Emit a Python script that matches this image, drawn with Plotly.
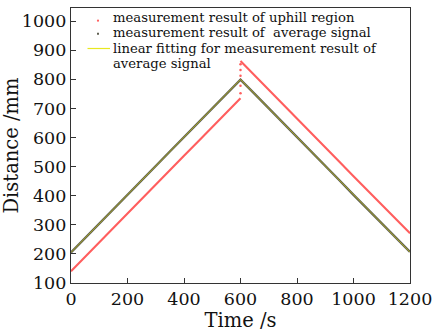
import plotly.graph_objects as go

# Time (s) and distances (mm)
t_up = [0, 50, 100, 150, 200, 250, 300, 350, 400, 450, 500, 550, 600]
t_down = [600, 650, 700, 750, 800, 850, 900, 950, 1000, 1050, 1100, 1150, 1200]

uphill_up = [140, 190, 239, 289, 338, 388, 438, 487, 537, 586, 636, 686, 735]
uphill_down = [863, 814, 764, 715, 665, 616, 566, 517, 467, 418, 368, 319, 271]
uphill_peak_t = [600, 600, 600, 600, 600, 600]
uphill_peak_d = [752, 778, 798, 812, 832, 852]

avg_up = [205, 254, 304, 354, 403, 453, 502, 552, 601, 651, 701, 750, 799]
avg_down = [799, 750, 701, 651, 601, 552, 502, 453, 403, 354, 304, 254, 207]

fit_t = [0, 600, 1200]
fit_d = [205, 799, 206]

legend_lines = [
    "measurement result of uphill region",
    "measurement result of  average signal",
    "linear fitting for measurement result of",
    "average signal",
]

RED = "#ff5e5e"
GRAY = "#606052"
YEL = "#e8e820"
FONT = "DejaVu Serif"

fig = go.Figure()
fig.add_trace(go.Scatter(x=t_up + [None] + t_down, y=uphill_up + [None] + uphill_down,
                         mode="lines", line=dict(color=RED, width=2.1), showlegend=False))
fig.add_trace(go.Scatter(x=uphill_peak_t, y=uphill_peak_d, mode="markers",
                         marker=dict(color=RED, size=2.5), showlegend=False))
fig.add_trace(go.Scatter(x=t_up + t_down[1:], y=avg_up + avg_down[1:],
                         mode="lines", line=dict(color=GRAY, width=2.4), showlegend=False))
fig.add_trace(go.Scatter(x=fit_t, y=fit_d, mode="lines",
                         line=dict(color="rgba(225,225,0,0.55)", width=1), showlegend=False))

axis_common = dict(showgrid=False, zeroline=False, showline=True, linecolor="#333333",
                   linewidth=1.2, mirror=True, ticks="inside", ticklen=5,
                   tickcolor="#333333", automargin=False, ticklabeloverflow="allow",
                   tickfont=dict(family=FONT, size=17.5, color="#111111"))

# legend drawn as text + small symbols (plot area: x 71..410 px, y 8..283 px)
def px_x(p):
    return (p - 71) / 339.0

def px_y(p):
    return (283 - p) / 275.0

annotations = []
for txt, yc in zip(legend_lines, [17.3, 32.8, 48.3, 63.8]):
    annotations.append(dict(text=txt, xref="paper", yref="paper", x=px_x(111), y=px_y(yc),
                            xanchor="left", yanchor="middle", showarrow=False,
                            font=dict(family=FONT, size=13.2, color="#111111")))

shapes = [
    dict(type="circle", xref="paper", yref="paper", x0=px_x(96.9), x1=px_x(99.1),
         y0=px_y(21.8), y1=px_y(19.6), fillcolor=RED, line=dict(width=0)),
    dict(type="rect", xref="paper", yref="paper", x0=px_x(97), x1=px_x(99),
         y0=px_y(34.8), y1=px_y(32.8), fillcolor=GRAY, line=dict(width=0)),
    dict(type="line", xref="paper", yref="paper", x0=px_x(87.5), x1=px_x(110),
         y0=px_y(48.5), y1=px_y(48.5), line=dict(color=YEL, width=1.2)),
]

fig.update_layout(
    width=432, height=333,
    margin=dict(l=71, r=22, t=8, b=50),
    plot_bgcolor="white", paper_bgcolor="white",
    font=dict(family=FONT, color="#111111"),
    showlegend=False,
    xaxis=dict(range=[0, 1200], tickvals=[0, 200, 400, 600, 800, 1000, 1200],
               title=dict(text="Time /s", font=dict(family=FONT, size=19.5), standoff=0),
               **axis_common),
    yaxis=dict(range=[100, 1045], tickvals=[100, 200, 300, 400, 500, 600, 700, 800, 900, 1000],
               title=dict(text="Distance /mm", font=dict(family=FONT, size=19.5), standoff=2),
               **axis_common),
    annotations=annotations,
    shapes=shapes,
)

fig.write_html("out.html")
